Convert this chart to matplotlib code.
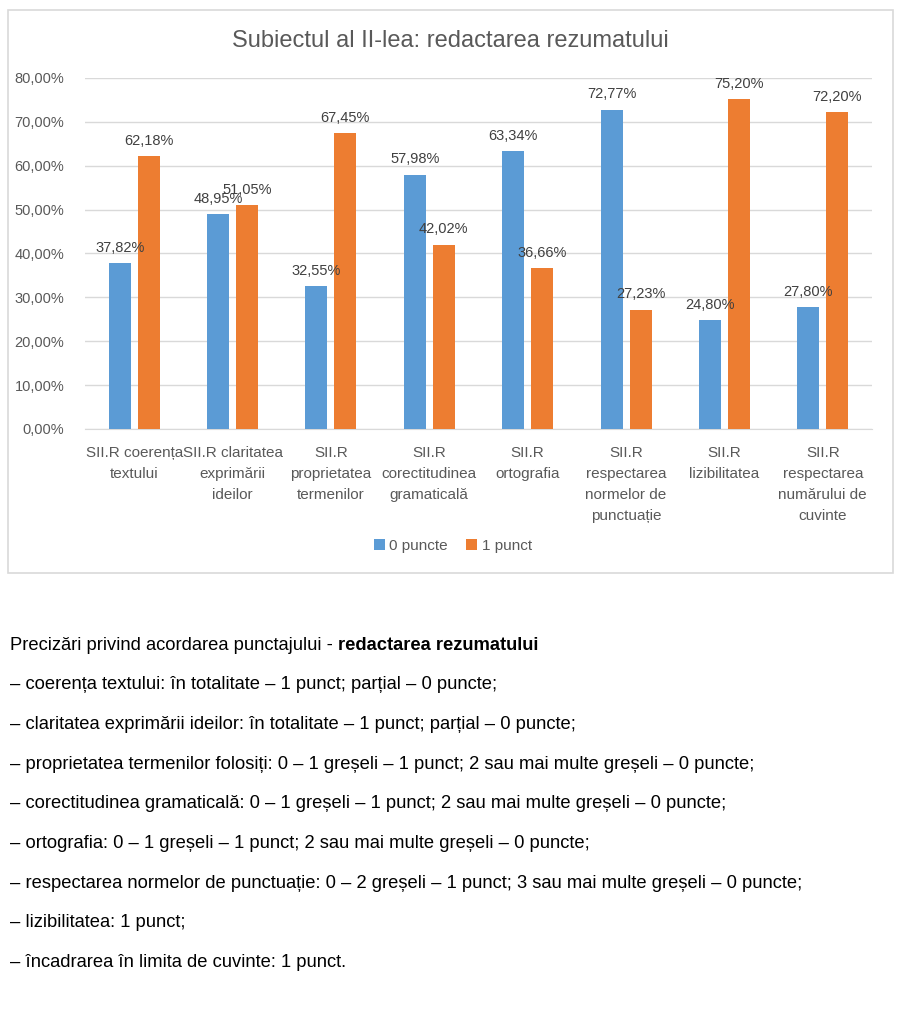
import matplotlib
matplotlib.use("Agg")
import matplotlib.pyplot as plt
import numpy as np
from matplotlib.patches import Rectangle

plt.rcParams['font.family'] = ['Liberation Sans', 'DejaVu Sans']

categories = [
    "SII.R coerența\ntextului",
    "SII.R claritatea\nexprimării\nideilor",
    "SII.R\nproprietatea\ntermenilor",
    "SII.R\ncorectitudinea\ngramaticală",
    "SII.R\nortografia",
    "SII.R\nrespectarea\nnormelor de\npunctuație",
    "SII.R\nlizibilitatea",
    "SII.R\nrespectarea\nnumărului de\ncuvinte",
]
zero_points = [37.82, 48.95, 32.55, 57.98, 63.34, 72.77, 24.80, 27.80]
one_point = [62.18, 51.05, 67.45, 42.02, 36.66, 27.23, 75.20, 72.20]
series_names = ["0 puncte", "1 punct"]

notes_title = "Precizări privind acordarea punctajului - "
notes_title_bold = "redactarea rezumatului"
notes = [
    "– coerența textului: în totalitate – 1 punct; parțial – 0 puncte;",
    "– claritatea exprimării ideilor: în totalitate – 1 punct; parțial – 0 puncte;",
    "– proprietatea termenilor folosiți: 0 – 1 greșeli – 1 punct; 2 sau mai multe greșeli – 0 puncte;",
    "– corectitudinea gramaticală: 0 – 1 greșeli – 1 punct; 2 sau mai multe greșeli – 0 puncte;",
    "– ortografia: 0 – 1 greșeli – 1 punct; 2 sau mai multe greșeli – 0 puncte;",
    "– respectarea normelor de punctuație: 0 – 2 greșeli – 1 punct; 3 sau mai multe greșeli – 0 puncte;",
    "– lizibilitatea: 1 punct;",
    "– încadrarea în limita de cuvinte: 1 punct.",
]

blue = '#5B9BD5'
orange = '#ED7D31'
text_gray = '#595959'

W, H = 900, 1026
fig = plt.figure(figsize=(9, 10.26), dpi=100)

# chart frame
fig.patches.append(Rectangle((8 / W, 1 - 573 / H), 885 / W, 563 / H,
                             transform=fig.transFigure, fill=False,
                             edgecolor='#D9D9D9', linewidth=1.2))

ax = fig.add_axes([85 / W, 1 - 429 / H, 787 / W, 351 / H])
x = np.arange(len(categories))
bw = 0.224
off = 0.147
b0 = ax.bar(x - off, zero_points, bw, color=blue, label=series_names[0], zorder=3)
b1 = ax.bar(x + off, one_point, bw, color=orange, label=series_names[1], zorder=3)

for bars, vals in [(b0, zero_points), (b1, one_point)]:
    for rect, v in zip(bars, vals):
        ax.annotate(f"{v:.2f}%".replace('.', ','),
                    (rect.get_x() + rect.get_width() / 2, v),
                    xytext=(0, 6), textcoords='offset points',
                    ha='center', va='bottom', fontsize=10.5, color='#404040',
                    annotation_clip=False, zorder=4)

ax.set_xlim(-0.5, 7.5)
ax.set_ylim(0, 80)
ax.set_yticks(np.arange(0, 81, 10))
ax.set_yticklabels([f"{v:.2f}%".replace('.', ',') for v in np.arange(0, 81, 10)])
ax.set_xticks(x)
ax.set_xticklabels(categories, fontsize=11, color=text_gray, linespacing=1.65)
ax.tick_params(axis='y', length=0, pad=15, labelsize=10.5, labelcolor=text_gray)
ax.tick_params(axis='x', length=0, pad=12)
ax.grid(axis='y', color='#D9D9D9', linewidth=1, zorder=0)
for s in ['top', 'right', 'left']:
    ax.spines[s].set_visible(False)
ax.spines['bottom'].set_color('#D9D9D9')

fig.text(450 / W, 1 - 41 / H, "Subiectul al II-lea: redactarea rezumatului",
         ha='center', va='center', fontsize=17, color=text_gray)

fig.legend(handles=[b0, b1], labels=series_names, loc='center',
           bbox_to_anchor=(453 / W, 1 - 546 / H), ncol=2, frameon=False,
           fontsize=11, handlelength=0.7, handleheight=0.7, handletextpad=0.3,
           columnspacing=1.2, labelcolor=text_gray)

# notes below the chart
y0 = 645
step = 39.7
t = fig.text(10 / W, 1 - y0 / H, notes_title, ha='left', va='center',
             fontsize=13.2, color='black')
fig.canvas.draw()
bb = t.get_window_extent(renderer=fig.canvas.get_renderer())
fig.text(bb.x1 / W, 1 - y0 / H, notes_title_bold, ha='left', va='center',
         fontsize=13.2, color='black', fontweight='bold')
for i, line in enumerate(notes):
    fig.text(10 / W, 1 - (y0 + step * (i + 1)) / H, line, ha='left',
             va='center', fontsize=13.2, color='black')

fig.savefig('out.png', dpi=100)
